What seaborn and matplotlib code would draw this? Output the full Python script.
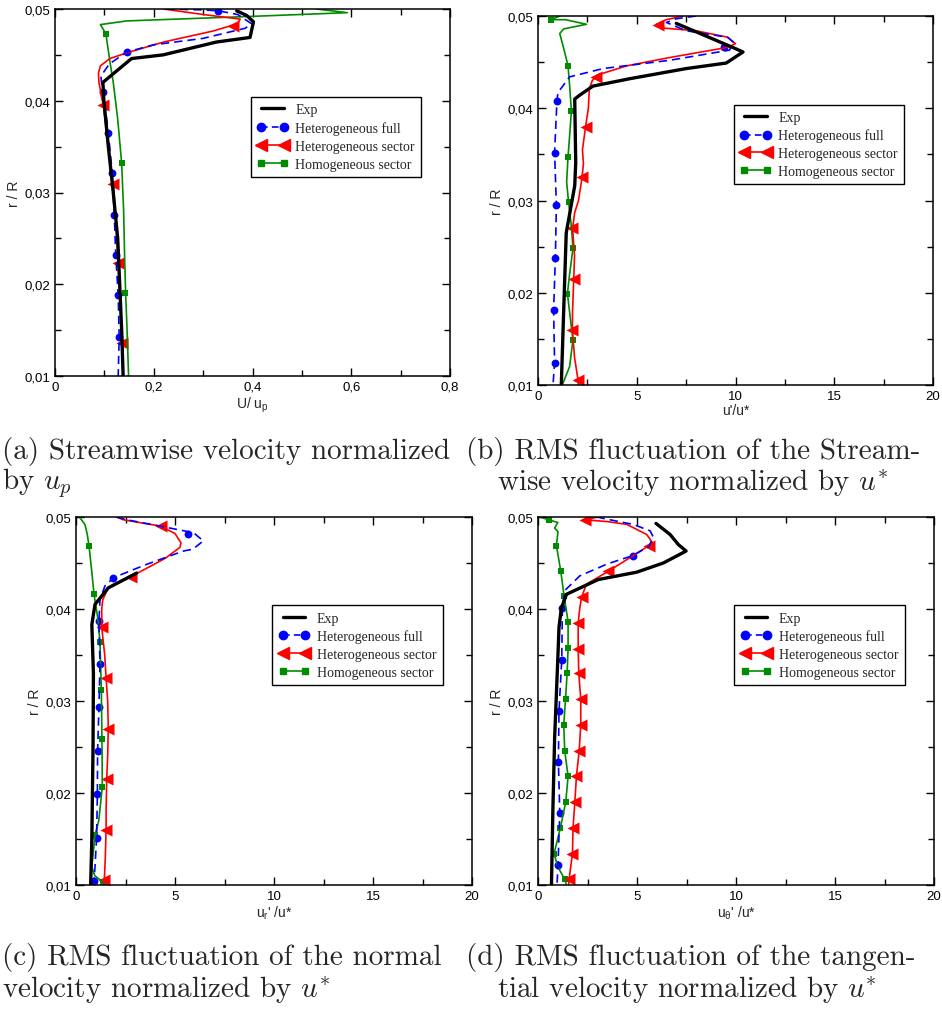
import numpy as np
import pandas as pd
import matplotlib
matplotlib.use("Agg")
import matplotlib.pyplot as plt
from matplotlib.lines import Line2D
from matplotlib.ticker import MultipleLocator, FuncFormatter
import seaborn as sns

# ---------------- data ----------------
# panel (a): U/u_p
a_exp_x = [0.138, 0.135, 0.131, 0.127, 0.118, 0.108, 0.099, 0.097, 0.155, 0.219, 0.327, 0.395, 0.402, 0.388, 0.368]
a_exp_y = [0.010, 0.015, 0.020, 0.025, 0.030, 0.035, 0.040, 0.0420, 0.0446, 0.0450, 0.0464, 0.0469, 0.0486, 0.0493, 0.0498]
a_full_x = [0.226, 0.300, 0.331, 0.370, 0.398, 0.385, 0.300, 0.200, 0.145, 0.110, 0.093, 0.095, 0.098, 0.108, 0.116, 0.120, 0.123, 0.128, 0.130, 0.128]
a_full_y = [0.0500, 0.0499, 0.0498, 0.0494, 0.0484, 0.0479, 0.0468, 0.0461, 0.0453, 0.0440, 0.0427, 0.0415, 0.0409, 0.0365, 0.0321, 0.0276, 0.0232, 0.0188, 0.0143, 0.0100]
a_full_mx = [0.331, 0.145, 0.098, 0.108, 0.116, 0.120, 0.123, 0.128, 0.130]
a_full_my = [0.0498, 0.0453, 0.0409, 0.0365, 0.0321, 0.0276, 0.0232, 0.0188, 0.0143]
a_sec_x = [0.220, 0.300, 0.375, 0.370, 0.320, 0.220, 0.150, 0.111, 0.092, 0.088, 0.089, 0.095, 0.098, 0.108, 0.118, 0.123, 0.128, 0.132, 0.136, 0.138]
a_sec_y = [0.0500, 0.0494, 0.0489, 0.0484, 0.0476, 0.0464, 0.0453, 0.0446, 0.0438, 0.0430, 0.0420, 0.0402, 0.0395, 0.0350, 0.0309, 0.0270, 0.0223, 0.0180, 0.0136, 0.0100]
a_sec_mx = [0.361, 0.098, 0.118, 0.128, 0.136]
a_sec_my = [0.0482, 0.0395, 0.0309, 0.0223, 0.0136]
a_hom_x = [0.530, 0.592, 0.400, 0.145, 0.092, 0.103, 0.112, 0.118, 0.127, 0.135, 0.139, 0.141, 0.143, 0.146, 0.149]
a_hom_y = [0.0500, 0.0496, 0.0492, 0.0487, 0.0483, 0.0473, 0.0440, 0.0420, 0.0380, 0.0332, 0.0280, 0.0230, 0.0191, 0.0150, 0.0100]
a_hom_mx = [0.103, 0.135, 0.141]
a_hom_my = [0.0473, 0.0332, 0.0191]

# panel (b): u'/u*
b_exp_x = [1.18, 1.30, 1.43, 1.86, 1.91, 1.86, 2.10, 2.78, 4.64, 7.50, 9.53, 10.38, 9.96, 7.00]
b_exp_y = [0.010, 0.018, 0.0265, 0.0316, 0.0341, 0.0410, 0.0414, 0.0424, 0.0432, 0.0443, 0.0449, 0.0461, 0.0465, 0.0492]
b_full_x = [8.00, 7.00, 6.50, 7.50, 9.60, 9.87, 9.70, 6.67, 3.29, 1.60, 1.01, 0.96, 0.90, 0.84, 0.93, 0.88, 0.79, 0.84, 0.76]
b_full_y = [0.0500, 0.0497, 0.0493, 0.0484, 0.0477, 0.0472, 0.0463, 0.0452, 0.0443, 0.0434, 0.0417, 0.0408, 0.0380, 0.0352, 0.0295, 0.0238, 0.0181, 0.0124, 0.0100]
b_full_mx = [9.40, 0.96, 0.84, 0.93, 0.88, 0.79, 0.84]
b_full_my = [0.0466, 0.0408, 0.0352, 0.0295, 0.0238, 0.0181, 0.0124]
b_sec_x = [7.34, 6.50, 6.00, 6.30, 8.00, 9.60, 10.00, 9.60, 6.67, 4.50, 3.00, 2.75, 2.60, 2.55, 2.41, 2.25, 2.30, 2.23, 2.05, 1.86, 1.75, 1.85, 1.81, 1.75, 1.74, 1.85, 2.03, 2.05]
b_sec_y = [0.0500, 0.0496, 0.0491, 0.0487, 0.0484, 0.0477, 0.0470, 0.0466, 0.0455, 0.0446, 0.0436, 0.0430, 0.0421, 0.0400, 0.0380, 0.0355, 0.0340, 0.0325, 0.0300, 0.0287, 0.0270, 0.0240, 0.0215, 0.0180, 0.0160, 0.0130, 0.0105, 0.0100]
b_sec_mx = [6.08, 2.95, 2.41, 2.23, 1.72, 1.81, 1.74, 2.03]
b_sec_my = [0.0490, 0.0434, 0.0380, 0.0325, 0.0270, 0.0215, 0.0160, 0.0105]
b_hom_x = [1.10, 0.64, 1.40, 2.45, 1.30, 1.10, 1.30, 1.52, 1.60, 1.69, 1.60, 1.52, 1.45, 1.55, 1.70, 1.77, 1.60, 1.49, 1.65, 1.77, 1.60, 1.23]
b_hom_y = [0.0500, 0.0496, 0.0496, 0.0491, 0.0486, 0.0481, 0.0465, 0.0446, 0.0425, 0.0397, 0.0370, 0.0347, 0.0320, 0.0298, 0.0270, 0.0248, 0.0220, 0.0199, 0.0170, 0.0149, 0.0120, 0.0100]
b_hom_mx = [0.64, 1.52, 1.69, 1.52, 1.55, 1.77, 1.49, 1.77]
b_hom_my = [0.0496, 0.0446, 0.0397, 0.0347, 0.0298, 0.0248, 0.0199, 0.0149]

# panel (c): u_r'/u*
c_exp_x = [0.74, 0.80, 0.86, 0.88, 0.80, 0.96, 1.63, 3.06]
c_exp_y = [0.010, 0.015, 0.025, 0.033, 0.0383, 0.0405, 0.0423, 0.0439]
c_full_x = [2.05, 2.56, 4.50, 5.93, 6.43, 5.90, 5.42, 3.50, 1.89, 1.46, 1.21, 1.16, 1.21, 1.16, 1.09, 1.08, 1.04, 0.96, 0.91, 0.92]
c_full_y = [0.0500, 0.0497, 0.0489, 0.0483, 0.0474, 0.0465, 0.0463, 0.0448, 0.0434, 0.0425, 0.0410, 0.0387, 0.0340, 0.0293, 0.0246, 0.0199, 0.0151, 0.0120, 0.0104, 0.0100]
c_full_mx = [5.64, 1.89, 1.16, 1.21, 1.16, 1.09, 1.08, 1.04, 0.91]
c_full_my = [0.0481, 0.0434, 0.0387, 0.0340, 0.0293, 0.0246, 0.0199, 0.0151, 0.0104]
c_sec_x = [2.05, 2.39, 3.20, 4.29, 5.00, 5.30, 5.25, 4.50, 2.76, 1.63, 1.35, 1.30, 1.30, 1.45, 1.52, 1.60, 1.63, 1.60, 1.55, 1.52, 1.52, 1.48, 1.43, 1.40]
c_sec_y = [0.0500, 0.0497, 0.0494, 0.0490, 0.0482, 0.0472, 0.0467, 0.0455, 0.0435, 0.0423, 0.0410, 0.0400, 0.0380, 0.0350, 0.0325, 0.0300, 0.0270, 0.0240, 0.0215, 0.0180, 0.0160, 0.0130, 0.0105, 0.0100]
c_sec_mx = [4.29, 2.76, 1.30, 1.52, 1.63, 1.55, 1.52, 1.43]
c_sec_my = [0.0490, 0.0435, 0.0380, 0.0325, 0.0270, 0.0215, 0.0160, 0.0105]
c_hom_x = [0.17, 0.45, 0.57, 0.66, 0.80, 0.91, 1.10, 1.21, 1.28, 1.31, 1.33, 1.15, 0.96, 0.85, 0.79, 0.95, 1.38, 1.55]
c_hom_y = [0.0500, 0.0492, 0.0481, 0.0468, 0.0440, 0.0416, 0.0390, 0.0364, 0.0312, 0.0259, 0.0207, 0.0170, 0.0154, 0.0130, 0.0120, 0.0110, 0.0103, 0.0100]
c_hom_mx = [1.38, 0.96, 1.33, 1.31, 1.28, 1.21, 0.91, 0.66]
c_hom_my = [0.0103, 0.0154, 0.0207, 0.0259, 0.0312, 0.0364, 0.0416, 0.0468]

# panel (d): u_theta'/u*
d_exp_x = [0.68, 0.75, 0.84, 1.01, 1.06, 1.18, 1.44, 3.04, 4.98, 6.33, 7.48, 7.09, 6.67, 5.96]
d_exp_y = [0.010, 0.018, 0.026, 0.0351, 0.0380, 0.0401, 0.0416, 0.0432, 0.0440, 0.0450, 0.0463, 0.0470, 0.0481, 0.0493]
d_full_x = [2.96, 3.63, 4.80, 5.66, 5.83, 5.60, 4.78, 3.50, 2.11, 1.35, 1.23, 1.20, 1.06, 1.03, 1.10, 1.01, 0.96]
d_full_y = [0.0500, 0.0497, 0.0492, 0.0485, 0.0478, 0.0468, 0.0458, 0.0449, 0.0436, 0.0420, 0.0401, 0.0345, 0.0289, 0.0234, 0.0178, 0.0122, 0.0100]
d_full_mx = [4.78, 1.23, 1.20, 1.06, 1.03, 1.10, 1.01]
d_full_my = [0.0458, 0.0401, 0.0345, 0.0289, 0.0234, 0.0178, 0.0122]
d_sec_x = [3.04, 2.36, 3.50, 4.48, 5.49, 5.75, 5.61, 3.55, 2.45, 2.20, 2.11, 2.03, 2.03, 2.06, 2.16, 2.16, 2.08, 1.94, 1.86, 1.77, 1.74, 1.57, 1.55]
d_sec_y = [0.0500, 0.0497, 0.0495, 0.0492, 0.0481, 0.0473, 0.0469, 0.0441, 0.0427, 0.0413, 0.0401, 0.0385, 0.0357, 0.0330, 0.0302, 0.0274, 0.0246, 0.0218, 0.0190, 0.0162, 0.0134, 0.0106, 0.0100]
d_sec_mx = [2.36, 5.61, 3.55, 2.20, 2.03, 2.03, 2.06, 2.16, 2.16, 2.08, 1.94, 1.86, 1.77, 1.74, 1.57]
d_sec_my = [0.0497, 0.0469, 0.0441, 0.0413, 0.0385, 0.0357, 0.0330, 0.0302, 0.0274, 0.0246, 0.0218, 0.0190, 0.0162, 0.0134, 0.0106]
d_hom_x = [0.08, 0.54, 1.00, 0.84, 1.01, 0.93, 1.15, 1.32, 1.52, 1.52, 1.47, 1.39, 1.30, 1.35, 1.52, 1.40, 1.13, 0.81, 1.00, 1.35, 1.44]
d_hom_y = [0.0500, 0.0497, 0.0494, 0.0488, 0.0484, 0.0469, 0.0441, 0.0414, 0.0386, 0.0358, 0.0330, 0.0302, 0.0274, 0.0246, 0.0218, 0.0190, 0.0162, 0.0134, 0.0120, 0.0106, 0.0100]
d_hom_mx = [0.54, 0.93, 1.15, 1.32, 1.52, 1.52, 1.47, 1.39, 1.30, 1.35, 1.52, 1.40, 1.13, 0.81, 1.35]
d_hom_my = [0.0497, 0.0469, 0.0441, 0.0414, 0.0386, 0.0358, 0.0330, 0.0302, 0.0274, 0.0246, 0.0218, 0.0190, 0.0162, 0.0134, 0.0106]

series_names = ["Exp", "Heterogeneous full", "Heterogeneous sector", "Homogeneous sector"]
x_labels = [r"U/ u$_\mathregular{p}$", r"u'/u*", r"u$_\mathregular{r}$' /u*", r"u$_\mathregular{\theta}$' /u*"]
y_label = "r / R"
captions = [
    ["(a) Streamwise velocity normalized", r"by $u_p$"],
    ["(b) RMS fluctuation of the Stream-", r"wise velocity normalized by $u^{*}$"],
    ["(c) RMS fluctuation of the normal", r"velocity normalized by $u^{*}$"],
    ["(d) RMS fluctuation of the tangen-", r"tial velocity normalized by $u^{*}$"],
]

# ---------------- style ----------------
sns.set_theme(style="ticks")
plt.rcParams["font.family"] = ["Liberation Sans", "DejaVu Sans"]
plt.rcParams["axes.linewidth"] = 1.1
plt.rcParams["axes.edgecolor"] = "black"

BLACK, BLUE, RED, GREEN = "#000000", "#0000ff", "#ff0000", "#008b00"

fig = plt.figure(figsize=(9.42, 10.12), dpi=100)
W, H = 942, 1012
boxes = [(55, 10, 450, 377), (538, 17, 933, 386), (76, 518, 472, 886), (538, 518, 934, 886)]
xmax = [0.8, 20, 20, 20]
xmaj = [0.2, 5, 5, 5]

panels = [
    (a_exp_x, a_exp_y, a_full_x, a_full_y, a_full_mx, a_full_my, a_sec_x, a_sec_y, a_sec_mx, a_sec_my, a_hom_x, a_hom_y, a_hom_mx, a_hom_my),
    (b_exp_x, b_exp_y, b_full_x, b_full_y, b_full_mx, b_full_my, b_sec_x, b_sec_y, b_sec_mx, b_sec_my, b_hom_x, b_hom_y, b_hom_mx, b_hom_my),
    (c_exp_x, c_exp_y, c_full_x, c_full_y, c_full_mx, c_full_my, c_sec_x, c_sec_y, c_sec_mx, c_sec_my, c_hom_x, c_hom_y, c_hom_mx, c_hom_my),
    (d_exp_x, d_exp_y, d_full_x, d_full_y, d_full_mx, d_full_my, d_sec_x, d_sec_y, d_sec_mx, d_sec_my, d_hom_x, d_hom_y, d_hom_mx, d_hom_my),
]

def comma_fmt(dec):
    def f(v, p):
        if abs(v) < 1e-12:
            return "0"
        return (f"{v:.{dec}f}").replace(".", ",") if dec else f"{v:g}"
    return FuncFormatter(f)

for i, (box, P) in enumerate(zip(boxes, panels)):
    l, t, r, b = box
    ax = fig.add_axes([l / W, 1 - b / H, (r - l) / W, (b - t) / H])
    (ex, ey, fx, fy, fmx, fmy, sx, sy, smx, smy, hx, hy, hmx, hmy) = P

    sns.lineplot(x=hx, y=hy, sort=False, estimator=None, color=GREEN, lw=1.2, ax=ax)
    sns.scatterplot(x=hmx, y=hmy, marker="s", s=16, color=GREEN, linewidth=0, ax=ax)
    sns.lineplot(x=sx, y=sy, sort=False, estimator=None, color=RED, lw=1.2, ax=ax)
    sns.scatterplot(x=smx, y=smy, marker="<", s=75, color=RED, linewidth=0, ax=ax)
    sns.lineplot(x=fx, y=fy, sort=False, estimator=None, color=BLUE, lw=1.2, linestyle=(0, (5, 3)), ax=ax)
    sns.scatterplot(x=fmx, y=fmy, marker="o", s=32, color=BLUE, linewidth=0, ax=ax)
    sns.lineplot(x=ex, y=ey, sort=False, estimator=None, color=BLACK, lw=2.4, ax=ax)

    ax.set_xlim(0, xmax[i])
    ax.set_ylim(0.01, 0.05)
    ax.xaxis.set_major_locator(MultipleLocator(xmaj[i]))
    ax.xaxis.set_minor_locator(MultipleLocator(xmaj[i] / 2))
    ax.yaxis.set_major_locator(MultipleLocator(0.01))
    ax.yaxis.set_minor_locator(MultipleLocator(0.005))
    ax.xaxis.set_major_formatter(comma_fmt(1 if i == 0 else 0))
    ax.yaxis.set_major_formatter(comma_fmt(2))
    ax.tick_params(which="both", direction="in", top=True, right=True, labelsize=9.5, colors="black")
    ax.tick_params(which="major", length=6, width=1)
    ax.tick_params(which="minor", length=4, width=1)
    for sp in ax.spines.values():
        sp.set_visible(True)
        sp.set_color("black")
    ax.set_xlabel(x_labels[i], fontsize=10, labelpad=1)
    ax.set_ylabel(y_label, fontsize=10, labelpad=2)

    handles = [
        Line2D([], [], color=BLACK, lw=2.4),
        Line2D([], [], color=BLUE, lw=1.2, ls=(0, (4, 2.5)), marker="o", ms=6),
        Line2D([], [], color=RED, lw=1.2, marker="<", ms=9),
        Line2D([], [], color=GREEN, lw=1.2, marker="s", ms=4),
    ]
    leg = ax.legend(handles, series_names, loc="upper left", bbox_to_anchor=(0.496, 0.760),
                    frameon=True, fancybox=False, framealpha=1, edgecolor="black",
                    prop={"family": "Liberation Serif", "size": 10},
                    handlelength=2.2, handletextpad=0.55, borderpad=0.45, labelspacing=0.35,
                    borderaxespad=0, numpoints=2)
    leg.get_frame().set_linewidth(1.0)

# captions
cap_pos = [(2, 452, 2, 483), (466, 452, 497, 483), (2, 958, 2, 990), (466, 958, 497, 990)]
for (x1, y1, x2, y2), (l1, l2) in zip(cap_pos, captions):
    fig.text(x1 / W, 1 - y1 / H, l1, fontsize=21, family="cmr10", math_fontfamily="cm", va="center", ha="left")
    fig.text(x2 / W, 1 - y2 / H, l2, fontsize=21, family="cmr10", math_fontfamily="cm", va="center", ha="left")

fig.savefig("out.png", dpi=100)
